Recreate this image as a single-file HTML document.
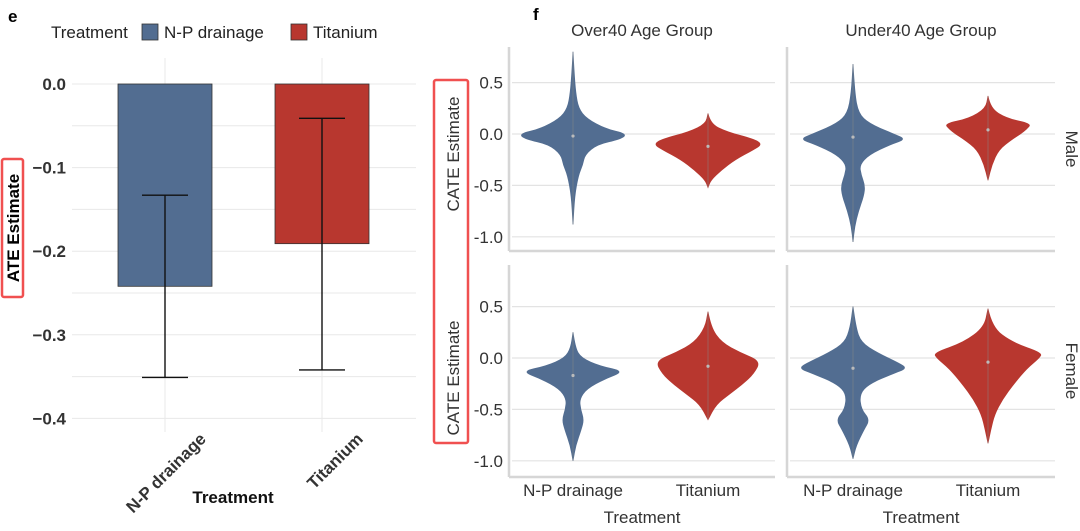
<!DOCTYPE html>
<html><head><meta charset="utf-8"><style>
html,body{margin:0;padding:0;background:#fff;}
svg{display:block;font-family:"Liberation Sans",Arial,sans-serif;}
</style></head><body>
<svg id="fig" width="1080" height="531" viewBox="0 0 1080 531" xmlns="http://www.w3.org/2000/svg">
<g id="left"></g>
<g id="right"></g>
</svg>
<script>
// ---- Panel e data ----
const barCats = ["N-P drainage", "Titanium"];
const barVals = [-0.242, -0.191];
const errLow = [-0.351, -0.342];
const errHigh = [-0.133, -0.041];
const barTicks = [0.0, -0.1, -0.2, -0.3, -0.4];
const barTickLabels = ["0.0", "\u22120.1", "\u22120.2", "\u22120.3", "\u22120.4"];

// ---- Panel f data ----
const facetCols = ["Over40 Age Group", "Under40 Age Group"];
const facetRows = ["Male", "Female"];
const violinCats = ["N-P drainage", "Titanium"];
const violinTicks = [0.5, 0.0, -0.5, -1.0];
const violinTickLabels = ["0.5", "0.0", "-0.5", "-1.0"];
// density profiles: [value, relative half-width]
const vMaleOverNP = [[0.8,0],[0.6,0.02],[0.4,0.05],[0.25,0.1],[0.15,0.25],[0.05,0.6],[0.0,1.0],[-0.05,0.88],[-0.1,0.45],[-0.2,0.22],[-0.3,0.18],[-0.4,0.1],[-0.6,0.03],[-0.88,0]];
const vMaleOverTi = [[0.2,0],[0.1,0.04],[0.02,0.35],[-0.05,0.85],[-0.1,1.0],[-0.15,0.85],[-0.25,0.5],[-0.35,0.25],[-0.45,0.05],[-0.52,0]];
const vMaleUnderNP = [[0.68,0],[0.4,0.03],[0.2,0.1],[0.1,0.3],[0.0,0.75],[-0.05,0.98],[-0.1,0.7],[-0.2,0.3],[-0.3,0.12],[-0.4,0.15],[-0.5,0.22],[-0.6,0.2],[-0.75,0.1],[-0.9,0.03],[-1.05,0]];
const vMaleUnderTi = [[0.37,0],[0.25,0.04],[0.15,0.35],[0.1,0.8],[0.05,0.72],[0.0,0.6],[-0.05,0.45],[-0.15,0.2],[-0.3,0.07],[-0.45,0]];
const vFemOverNP = [[0.25,0],[0.1,0.04],[0.0,0.15],[-0.08,0.5],[-0.13,0.95],[-0.2,0.6],[-0.3,0.25],[-0.4,0.12],[-0.5,0.14],[-0.6,0.2],[-0.7,0.15],[-0.85,0.05],[-1.0,0]];
const vFemOverTi = [[0.45,0],[0.3,0.05],[0.15,0.25],[0.05,0.6],[-0.03,0.97],[-0.15,0.85],[-0.25,0.65],[-0.35,0.4],[-0.45,0.15],[-0.6,0]];
const vFemUnderNP = [[0.5,0],[0.3,0.05],[0.15,0.15],[0.05,0.45],[-0.05,0.85],[-0.1,1.0],[-0.15,0.75],[-0.25,0.3],[-0.35,0.12],[-0.5,0.15],[-0.6,0.31],[-0.7,0.2],[-0.85,0.06],[-0.98,0]];
const vFemUnderTi = [[0.48,0],[0.3,0.07],[0.15,0.45],[0.05,1.0],[0.0,0.95],[-0.1,0.72],[-0.25,0.48],[-0.4,0.27],[-0.55,0.12],[-0.7,0.05],[-0.83,0]];
const violinMedians = [[-0.02,-0.12,-0.03,0.04],[-0.17,-0.08,-0.1,-0.04]];

const NS = "http://www.w3.org/2000/svg";
function mk(parent, tag, attrs, text){
  const e = document.createElementNS(NS, tag);
  for (const k in attrs) e.setAttribute(k, attrs[k]);
  if (text !== undefined) e.textContent = text;
  parent.appendChild(e);
  return e;
}
const BLUE = "#526d91", RED = "#b8372f";

// ===== Panel e =====
const L = document.getElementById("left");
const yB = v => 84 - v / 0.1 * 83.6;
const xB = i => 165 + i * 157;
let t = mk(L,"text",{x:8,y:22,"font-size":17,"font-weight":"bold",fill:"#000"},"e");
 
// legend
const lg = mk(L,"g",{});
 
t = mk(lg,"text",{x:51,y:38,"font-size":17,fill:"#222"},"Treatment");
 
let r = mk(lg,"rect",{x:142,y:24,width:16,height:16,fill:BLUE,stroke:"#333","stroke-width":0.8});
 
t = mk(lg,"text",{x:164,y:38,"font-size":17,fill:"#222"},"N-P drainage");
 
r = mk(lg,"rect",{x:291,y:24,width:16,height:16,fill:RED,stroke:"#333","stroke-width":0.8});
 
t = mk(lg,"text",{x:313,y:38,"font-size":17,fill:"#222"},"Titanium");
 
// grid
for (let k = 0; k <= 8; k++) {
  const v = -0.05 * k;
  const l = mk(L,"line",{x1:72,x2:416,y1:yB(v),y2:yB(v),stroke:"#e8e8e8","stroke-width":1});
   
}
barCats.forEach((c,i)=>{
  const l = mk(L,"line",{x1:xB(i),x2:xB(i),y1:58,y2:432,stroke:"#e8e8e8"});
   
});
barTicks.forEach((v,i)=>{
  const tt = mk(L,"text",{x:66,y:yB(v)+6,"font-size":17,"font-weight":"bold",fill:"#333","text-anchor":"end"},barTickLabels[i]);
   
});
barCats.forEach((c,i)=>{
  const cx = xB(i), y0 = yB(0), y1 = yB(barVals[i]);
  const b = mk(L,"rect",{x:cx-47,y:Math.min(y0,y1),width:94,height:Math.abs(y1-y0),fill:i?RED:BLUE,stroke:"#333","stroke-width":0.8});
  
  
  const eg = mk(L,"g",{stroke:"#111","stroke-width":1.4});
   
  mk(eg,"line",{x1:cx,x2:cx,y1:yB(errHigh[i]),y2:yB(errLow[i])});
  mk(eg,"line",{x1:cx-23,x2:cx+23,y1:yB(errHigh[i]),y2:yB(errHigh[i])});
  mk(eg,"line",{x1:cx-23,x2:cx+23,y1:yB(errLow[i]),y2:yB(errLow[i])});
  const lt = mk(L,"text",{x:0,y:0,"font-size":17,"font-weight":"bold",fill:"#333","text-anchor":"end",transform:`translate(${cx+42},${440}) rotate(-45)`},c);
   
});
t = mk(L,"text",{x:233,y:503,"font-size":17,"font-weight":"bold",fill:"#111","text-anchor":"middle"},"Treatment");
 
r = mk(L,"rect",{x:2,y:159,width:21,height:138,fill:"none",stroke:"#f05050","stroke-width":2.5,rx:2});
 
t = mk(L,"text",{x:0,y:0,"font-size":17,"font-weight":"bold",fill:"#000","text-anchor":"middle",transform:"translate(19,228) rotate(-90)"},"ATE Estimate");
 

// ===== Panel f =====
const R = document.getElementById("right");
const panelX = [[509,775],[787,1055]];
const zeroY = [134, 358];
const topY = [47, 265], botY = [251, 477];
const centers = [[573,708],[853,988]];
const U = 102.8, HW = 54;
const profiles = [[vMaleOverNP, vMaleOverTi, vMaleUnderNP, vMaleUnderTi],[vFemOverNP, vFemOverTi, vFemUnderNP, vFemUnderTi]];
t = mk(R,"text",{x:533,y:20,"font-size":17,"font-weight":"bold",fill:"#000"},"f");
 
facetCols.forEach((c,j)=>{
  const tt = mk(R,"text",{x:(panelX[j][0]+panelX[j][1])/2,y:36,"font-size":17,fill:"#333","text-anchor":"middle"},c);
   
});
facetRows.forEach((rw,i)=>{
  const yc = (topY[i]+botY[i])/2;
  const tt = mk(R,"text",{x:0,y:0,"font-size":17,fill:"#333","text-anchor":"middle",transform:`translate(1066,${yc}) rotate(90)`},rw);
   
  const yl = mk(R,"text",{x:0,y:0,"font-size":17,fill:"#333","text-anchor":"middle",transform:`translate(459,${zeroY[i]+20}) rotate(-90)`},"CATE Estimate");
   
  violinTicks.forEach((v,k)=>{
    const ty = mk(R,"text",{x:503,y:zeroY[i]-v*U+6,"font-size":17,fill:"#333","text-anchor":"end"},violinTickLabels[k]);
     
  });
  panelX.forEach((px,j)=>{
    const pg = mk(R,"g",{});
     
    violinTicks.forEach(v=>{
      const gl = mk(pg,"line",{x1:px[0]+3,x2:px[1],y1:zeroY[i]-v*U,y2:zeroY[i]-v*U,stroke:"#e3e3e3","stroke-width":1.2});
       
    });
    mk(pg,"line",{x1:px[0],x2:px[0],y1:topY[i],y2:botY[i],stroke:"#d6d6d6","stroke-width":2.5});
    mk(pg,"line",{x1:px[0],x2:px[1],y1:botY[i],y2:botY[i],stroke:"#d6d6d6","stroke-width":2.5});
    violinCats.forEach((c,k)=>{
      const prof = profiles[i][j*2+k];
      const cx = centers[j][k];
      let right = prof.map(p=>[cx+p[1]*HW, zeroY[i]-p[0]*U]);
      let left = prof.slice().reverse().map(p=>[cx-p[1]*HW, zeroY[i]-p[0]*U]);
      const pts = right.concat(left);
      let d = `M${pts[0][0]},${pts[0][1]}`;
      for (let q=1;q<pts.length-1;q++){
        const mx=(pts[q][0]+pts[q+1][0])/2, my=(pts[q][1]+pts[q+1][1])/2;
        d += ` Q${pts[q][0]},${pts[q][1]} ${mx},${my}`;
      }
      d += ` L${pts[pts.length-1][0]},${pts[pts.length-1][1]} Z`;
      const vp = mk(pg,"path",{d:d,fill:k?RED:BLUE,stroke:k?RED:BLUE,"stroke-width":0.8});
      
      
      const ml = mk(pg,"line",{x1:cx,x2:cx,y1:zeroY[i]-prof[0][0]*U,y2:zeroY[i]-prof[prof.length-1][0]*U,stroke:"#888","stroke-width":0.7,opacity:0.7});
       
      const md = mk(pg,"circle",{cx:cx,cy:zeroY[i]-violinMedians[i][j*2+k]*U,r:1.6,fill:"#bbb"});
       
      if (i===1){
        const xt = mk(R,"text",{x:cx,y:496,"font-size":17,fill:"#333","text-anchor":"middle"},c);
         
      }
    });
    if (i===1){
      const xa = mk(R,"text",{x:(px[0]+px[1])/2,y:523,"font-size":17,fill:"#333","text-anchor":"middle"},"Treatment");
       
    }
  });
});
r = mk(R,"rect",{x:434,y:80,width:34,height:363,fill:"none",stroke:"#f05050","stroke-width":2.5,rx:2});
 
</script>
</body></html>
